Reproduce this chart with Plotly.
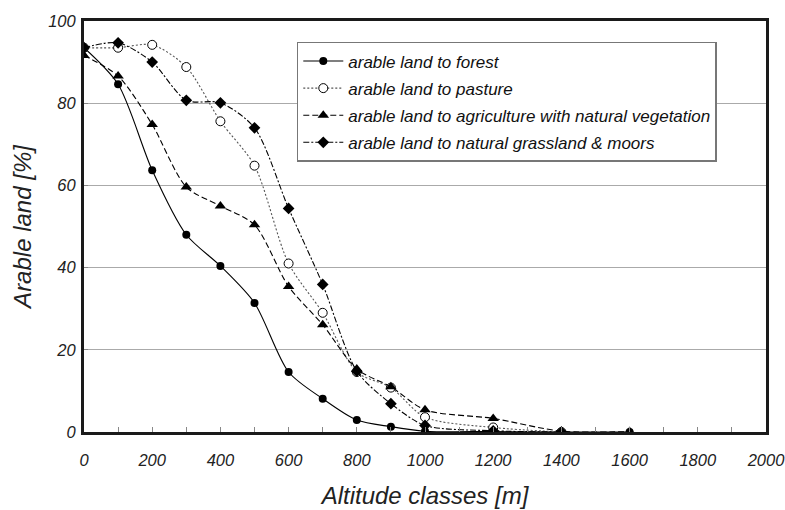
import plotly.graph_objects as go

altitude = [0, 100, 200, 300, 400, 500, 600, 700, 800, 900, 1000, 1200, 1400, 1600]
forest = [93.5, 84.6, 63.7, 48.0, 40.4, 31.4, 14.6, 8.1, 2.9, 1.3, 0.2, 0.1, 0.0, 0.0]
pasture_alt = [0, 100, 200, 300, 400, 500, 600, 700, 800, 900, 1000, 1200, 1400]
pasture = [93.5, 93.5, 94.2, 88.8, 75.6, 64.8, 41.0, 29.0, 14.6, 10.8, 3.6, 1.1, 0.0]
agri = [91.6, 86.6, 74.8, 59.6, 55.0, 50.4, 35.4, 26.1, 15.3, 11.0, 5.4, 3.3, 0.2, 0.1]
grass_alt = [0, 100, 200, 300, 400, 500, 600, 700, 800, 900, 1000, 1200, 1400]
grass = [93.5, 94.7, 90.0, 80.7, 80.1, 74.0, 54.4, 35.9, 14.8, 6.9, 1.6, 0.3, 0.0]

names = [
    "arable land to forest",
    "arable land to pasture",
    "arable land to agriculture with natural vegetation",
    "arable land to natural grassland &amp; moors",
]

fig = go.Figure()
fig.add_trace(go.Scatter(
    x=altitude, y=forest, name=names[0], mode="lines+markers", legendgroup="g1",
    line=dict(color="black", width=1.1, shape="spline", smoothing=0.8),
    marker=dict(symbol="circle", size=8, color="black"),
))
fig.add_trace(go.Scatter(
    x=pasture_alt, y=pasture, name=names[1], mode="lines+markers", legendgroup="g2",
    line=dict(color="#555555", width=1.1, dash="2px,2px", shape="spline", smoothing=0.8),
    marker=dict(symbol="circle", size=9, color="white", line=dict(color="black", width=1)),
))
fig.add_trace(go.Scatter(
    x=altitude, y=agri, name=names[2], mode="lines+markers", legendgroup="g3",
    line=dict(color="black", width=1.1, dash="6px,3px", shape="spline", smoothing=0.8),
    marker=dict(symbol="triangle-up", size=10, color="black"),
))
fig.add_trace(go.Scatter(
    x=grass_alt, y=grass, name=names[3], mode="lines+markers", legendgroup="g4",
    line=dict(color="black", width=1.1, dash="6px,2px,2px,2px", shape="spline", smoothing=0.8),
    marker=dict(symbol="diamond", size=9, color="black"),
))

fig.update_layout(
    width=785, height=510,
    margin=dict(l=84, r=19, t=21, b=78, autoexpand=False),
    paper_bgcolor="white", plot_bgcolor="white",
    font=dict(family="Liberation Sans, Arial, sans-serif", size=17, color="#222", style="italic"),
    showlegend=True,
    legend=dict(
        x=0.312, y=0.949, xanchor="left", yanchor="top",
        bgcolor="white", bordercolor="#777", borderwidth=1.5,
        font=dict(size=17, color="#111", style="italic"),
        tracegroupgap=2, itemwidth=40,
    ),
)
fig.update_xaxes(
    range=[0, 2000], dtick=200, tick0=0, automargin=False,
    ticks="inside", ticklen=5, tickcolor="#888",
    minor=dict(ticks="inside", dtick=100, ticklen=5, tickcolor="#888"),
    showline=True, linecolor="#1a1a1a", linewidth=3, mirror=True,
    showgrid=False, zeroline=False, ticklabeloverflow="allow", ticklabelstandoff=11,
    title=dict(text="Altitude classes [m]", font=dict(size=24, style="italic"), standoff=20),
    tickfont=dict(size=16.5, style="italic"),
)
fig.update_yaxes(
    range=[0, 100], dtick=20, automargin=False,
    ticks="inside", ticklen=4, tickcolor="#888",
    showline=True, linecolor="#1a1a1a", linewidth=3, mirror=True,
    showgrid=True, gridcolor="#aaaaaa", gridwidth=1, zeroline=False,
    ticklabelstandoff=2, ticklabeloverflow="allow",
    title=dict(text="Arable land [%]", font=dict(size=24, style="italic"), standoff=10),
    tickfont=dict(size=16.5, style="italic"),
)

fig.write_html(
    "out.html",
    config={"displayModeBar": False},
    post_script="document.body.style.margin='0';document.body.style.overflow='hidden';",
)
